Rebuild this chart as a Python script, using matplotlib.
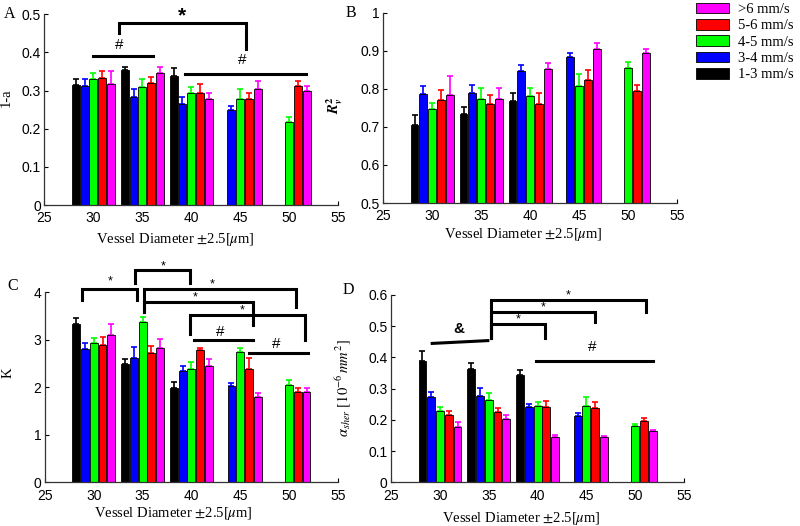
import numpy as np
import matplotlib
matplotlib.use("Agg")
import matplotlib.pyplot as plt

plt.rcParams['mathtext.fontset'] = 'stix'
plt.rcParams['font.family'] = 'sans-serif'
plt.rcParams['font.sans-serif'] = ['Liberation Sans', 'DejaVu Sans']

nan = np.nan
groups = [30, 35, 40, 45, 50]
series_labels = ['1-3 mm/s', '3-4 mm/s', '4-5 mm/s', '5-6 mm/s', '>6 mm/s']
series_colors = ['#000000', '#0000FF', '#00FF00', '#FF0000', '#FF00FF']

# Panel A: 1-a
A_mean = [[0.315, 0.353, 0.339, nan, nan],
          [0.313, 0.283, 0.265, 0.249, nan],
          [0.331, 0.310, 0.293, 0.277, 0.217],
          [0.333, 0.319, 0.293, 0.278, 0.311],
          [0.317, 0.345, 0.278, 0.304, 0.298]]
A_err = [[0.016, 0.010, 0.019, nan, nan],
         [0.018, 0.022, 0.018, 0.011, nan],
         [0.014, 0.020, 0.017, 0.028, 0.014],
         [0.019, 0.016, 0.023, 0.015, 0.014],
         [0.035, 0.018, 0.015, 0.022, 0.013]]

# Panel B: R_v^2
B_mean = [[0.705, 0.733, 0.767, nan, nan],
          [0.787, 0.789, 0.848, 0.884, nan],
          [0.747, 0.774, 0.780, 0.807, 0.854],
          [0.770, 0.759, 0.760, 0.823, 0.794],
          [0.784, 0.774, 0.853, 0.905, 0.895]]
B_err = [[0.025, 0.019, 0.022, nan, nan],
         [0.021, 0.020, 0.014, 0.011, nan],
         [0.016, 0.027, 0.022, 0.032, 0.016],
         [0.026, 0.024, 0.029, 0.026, 0.017],
         [0.049, 0.027, 0.015, 0.014, 0.010]]

# Panel C: K
C_mean = [[3.33, 2.49, 1.98, nan, nan],
          [2.80, 2.61, 2.35, 2.03, nan],
          [2.93, 3.37, 2.38, 2.75, 2.05],
          [2.89, 2.73, 2.79, 2.38, 1.91],
          [3.10, 2.83, 2.45, 1.80, 1.91]]
C_err = [[0.12, 0.11, 0.14, nan, nan],
         [0.13, 0.23, 0.09, 0.07, nan],
         [0.10, 0.12, 0.16, 0.07, 0.11],
         [0.18, 0.14, 0.03, 0.23, 0.08],
         [0.23, 0.19, 0.14, 0.08, 0.07]]

# Panel D: alpha_sher
D_mean = [[0.390, 0.363, 0.343, nan, nan],
          [0.275, 0.278, 0.240, 0.214, nan],
          [0.230, 0.263, 0.245, 0.246, 0.180],
          [0.215, 0.224, 0.242, 0.238, 0.197],
          [0.177, 0.204, 0.144, 0.144, 0.165]]
D_err = [[0.032, 0.019, 0.017, nan, nan],
         [0.016, 0.023, 0.012, 0.009, nan],
         [0.013, 0.023, 0.013, 0.027, 0.008],
         [0.014, 0.013, 0.018, 0.018, 0.009],
         [0.017, 0.012, 0.007, 0.004, 0.004]]

# significance annotations: brackets (x_left, x_right, y_top, y_left_end, y_right_end, label, lx, ly)
A_brackets = [(32.6, 45.6, 0.477, 0.45, 0.41, '*', 39.0, 0.496)]
A_lines = [(30.0, 0.391, 36.1, 0.391, '#', 32.6, 0.42),
           (39.4, 0.344, 51.7, 0.344, '#', 45.2, 0.38)]
C_brackets = [(28.8, 34.4, 4.07, 3.84, 3.84, '*', 31.7, 4.22),
              (34.2, 39.9, 4.47, 4.19, 4.19, '*', 37.1, 4.54),
              (35.1, 50.7, 4.06, 3.59, 3.70, '*', 42.1, 4.16),
              (35.1, 46.3, 3.79, 3.59, 3.31, '*', 40.4, 3.90),
              (39.9, 51.6, 3.52, 3.13, 3.00, '*', 45.2, 3.62)]
C_lines = [(40.3, 2.99, 46.3, 2.99, '#', 42.9, 3.17),
           (45.9, 2.72, 51.9, 2.72, '#', 48.7, 2.92)]
D_brackets = [(35.2, 51.1, 0.584, 0.461, 0.545, '*', 43.1, 0.600),
              (35.2, 45.9, 0.545, 0.461, 0.513, '*', 40.6, 0.560),
              (35.2, 40.8, 0.506, 0.461, 0.461, '*', 38.0, 0.522)]
D_lines = [(29.2, 0.445, 34.9, 0.454, '&', 31.9, 0.49),
           (39.8, 0.389, 51.8, 0.389, '#', 45.6, 0.433)]

bar_step = 0.9
bar_width = 0.8

fig = plt.figure(figsize=(8.0, 5.26), dpi=100)

serif = ['Liberation Serif', 'DejaVu Serif']
tick_fs = 10
lab_fs = 10.5


def draw_panel(rect, means, errs, ylim, yticks, yticklabels, ylabel, ylabel_pos, xlabel_pos):
    ax = fig.add_axes(rect)
    handles = []
    for i, (m, e, c, lab) in enumerate(zip(means, errs, series_colors, series_labels)):
        m = np.array(m, dtype=float)
        e = np.array(e, dtype=float)
        x = np.array(groups, dtype=float) + (i - 2) * bar_step
        ok = ~np.isnan(m)
        h = ax.bar(x[ok], m[ok], width=bar_width, color=c, edgecolor='black',
                   linewidth=0.6, label=lab, zorder=2)
        ax.errorbar(x[ok], m[ok], yerr=[np.zeros(ok.sum()), e[ok]], fmt='none',
                    ecolor=c, elinewidth=1.2, capsize=2.2, capthick=1.2, zorder=1)
        handles.append(h)
    ax.set_xlim(25, 55)
    ax.set_xticks([25, 30, 35, 40, 45, 50, 55])
    ax.set_ylim(*ylim)
    ax.set_yticks(yticks)
    ax.set_yticklabels(yticklabels)
    for s in ['top', 'right']:
        ax.spines[s].set_visible(False)
    for s in ['left', 'bottom']:
        ax.spines[s].set_linewidth(0.9)
        ax.spines[s].set_color('#333333')
    ax.tick_params(direction='in', length=3, width=0.8, labelsize=tick_fs,
                   labelfontfamily='Liberation Sans')
    ax.tick_params(axis='x', pad=4.5)
    ax.tick_params(axis='y', pad=2.5)
    ax.set_xlabel('Vessel Diameter $\\pm$2.5[$\\mu$m]', family=serif, fontsize=lab_fs)
    ax.xaxis.set_label_coords(*xlabel_pos)
    ax.set_ylabel(ylabel, family=serif, fontsize=lab_fs)
    ax.yaxis.set_label_coords(*ylabel_pos)
    return ax, handles


def annotate(ax, brackets, lines, star_fs, star_weight, lw=2.2):
    for (xl, xr, yt, yle, yre, lab, lx, ly) in brackets:
        ax.plot([xl, xl, xr, xr], [yle, yt, yt, yre], color='black', lw=lw,
                clip_on=False, solid_joinstyle='miter', zorder=5)
        ax.text(lx, ly, lab, ha='center', va='center', fontsize=star_fs,
                fontweight=star_weight, clip_on=False)
    for (x1, y1, x2, y2, lab, lx, ly) in lines:
        ax.plot([x1, x2], [y1, y2], color='black', lw=lw, clip_on=False, zorder=5)
        fw = 'bold' if lab == '&' else 'normal'
        ax.text(lx, ly, lab, ha='center', va='center', fontsize=11, fontweight=fw,
                clip_on=False)


axA, handles = draw_panel([0.0556, 0.610, 0.367, 0.363], A_mean, A_err, (0, 0.5),
                          [0, 0.1, 0.2, 0.3, 0.4, 0.5], ['0', '0.1', '0.2', '0.3', '0.4', '0.5'],
                          '1-a', (-0.108, 0.565), (0.445, -0.138))
annotate(axA, A_brackets, A_lines, 15, 'bold')

axB, _ = draw_panel([0.479, 0.614, 0.3675, 0.362], B_mean, B_err, (0.5, 1.0),
                    [0.5, 0.6, 0.7, 0.8, 0.9, 1.0], ['0.5', '0.6', '0.7', '0.8', '0.9', '1'],
                    '$\\mathbfit{R}_{\\mathbfit{v}}^{\\mathbf{2}}$', (-0.13, 0.515), (0.475, -0.12))

axC, _ = draw_panel([0.05625, 0.0827, 0.366, 0.3616], C_mean, C_err, (0, 4),
                    [0, 1, 2, 3, 4], ['0', '1', '2', '3', '4'],
                    'K', (-0.105, 0.576), (0.44, -0.118))
annotate(axC, C_brackets, C_lines, 9, 'normal')

axD, _ = draw_panel([0.489, 0.0827, 0.366, 0.3565], D_mean, D_err, (0, 0.6),
                    [0, 0.1, 0.2, 0.3, 0.4, 0.5, 0.6],
                    ['0', '0.1', '0.2', '0.3', '0.4', '0.5', '0.6'],
                    '$\\alpha_{sher}\\ [10^{-6}\\,mm^2]$', (-0.13, 0.504), (0.446, -0.145))
annotate(axD, D_brackets, D_lines, 9, 'normal')

for lab, (x, y) in zip(['A', 'B', 'C', 'D'],
                       [(0.005, 0.973), (0.432, 0.975), (0.009, 0.456), (0.428, 0.449)]):
    fig.text(x, y, lab, family=serif, fontsize=11.5, ha='left', va='center')

fig.legend(handles[::-1], series_labels[::-1], loc='upper left',
           bbox_to_anchor=(0.853, 1.02), frameon=False, prop={'family': serif, 'size': 10.5},
           handlelength=2.3, handleheight=0.75, labelspacing=0.2, handletextpad=0.6)

fig.savefig('out.png', dpi=100)
